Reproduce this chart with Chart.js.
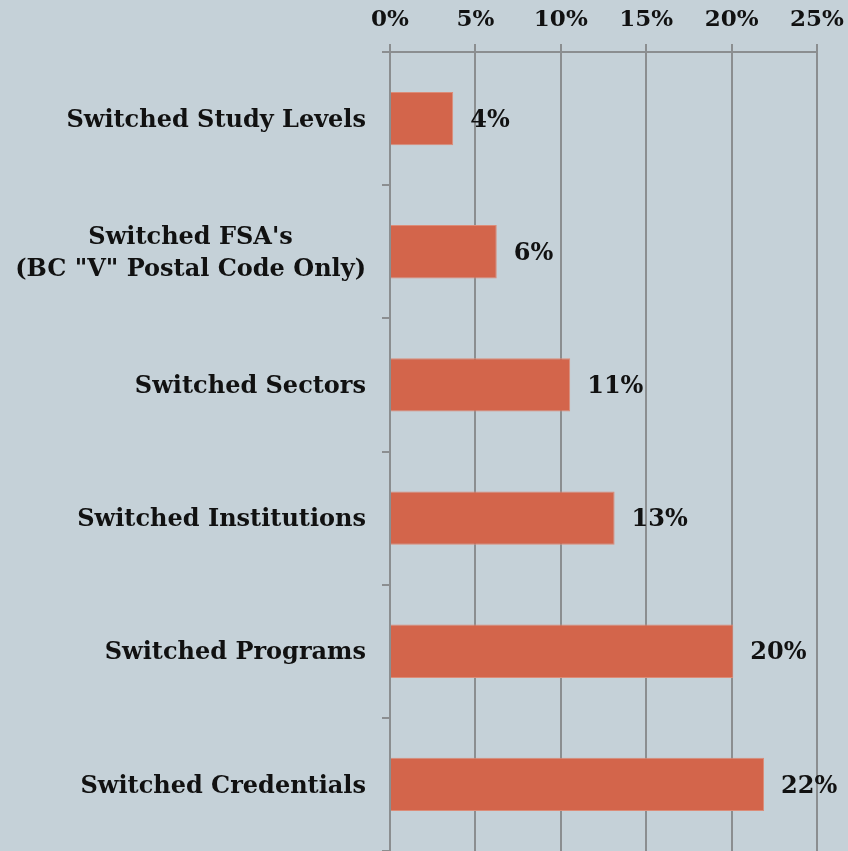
<!DOCTYPE html>
<html>
<head>
<meta charset="utf-8">
<script src="https://cdn.jsdelivr.net/npm/chart.js@4"></script>
<style>
  html, body { margin: 0; padding: 0; background: #c5d1d8; }
  #wrap { width: 848px; height: 851px; position: relative; }
</style>
</head>
<body>
<div id="wrap"><canvas id="chart"></canvas></div>
<script>
'use strict';

/*--- data ---*/
var categories = [
  ['Switched Study Levels'],
  ["Switched FSA's", '(BC "V" Postal Code Only)'],
  ['Switched Sectors'],
  ['Switched Institutions'],
  ['Switched Programs'],
  ['Switched Credentials']
];
var shares = [3.7, 6.25, 10.55, 13.15, 20.1, 21.9];
var shareLabels = ['4%', '6%', '11%', '13%', '20%', '22%'];
var xTicks = [0, 5, 10, 15, 20, 25];

var FONT = "'DejaVu Serif', serif";
var GRID = '#8b8e90';

/*--- value labels at the end of each bar ---*/
var barLabels = {
  id: 'barLabels',
  afterDatasetsDraw: function (chart) {
    var ctx = chart.ctx;
    var meta = chart.getDatasetMeta(0);
    ctx.save();
    ctx.font = 'bold 24px ' + FONT;
    ctx.fillStyle = '#111';
    ctx.textAlign = 'left';
    ctx.textBaseline = 'middle';
    meta.data.forEach(function (bar, i) {
      ctx.fillText(shareLabels[i], bar.x + 17, bar.y + 2);
    });
    ctx.restore();
  }
};

/*--- category labels, each block centred on its own lines ---*/
var catLabels = {
  id: 'catLabels',
  afterDraw: function (chart) {
    var ctx = chart.ctx;
    var yScale = chart.scales.y;
    var right = yScale.right - 24;
    ctx.save();
    ctx.font = 'bold 24px ' + FONT;
    ctx.fillStyle = '#111';
    ctx.textAlign = 'center';
    ctx.textBaseline = 'middle';
    categories.forEach(function (lines, i) {
      var y = yScale.getPixelForValue(i);
      var w = Math.max.apply(null, lines.map(function (l) { return ctx.measureText(l).width; }));
      var cx = right - w / 2;
      var lh = 32;
      var y0 = y - (lines.length - 1) * lh / 2 + 2;
      lines.forEach(function (l, k) {
        ctx.fillText(l, cx, y0 + k * lh);
      });
    });
    ctx.restore();
  }
};

new Chart(document.getElementById('chart'), {
  type: 'bar',
  data: {
    labels: categories,
    datasets: [{
      data: shares,
      backgroundColor: '#d3654b',
      borderColor: '#dc8c78',
      borderWidth: 1,
      categoryPercentage: 1,
      barPercentage: 0.4
    }]
  },
  options: {
    indexAxis: 'y',
    responsive: true,
    maintainAspectRatio: false,
    animation: false,
    layout: { padding: 0 },
    plugins: {
      legend: { display: false },
      tooltip: { enabled: false }
    },
    scales: {
      x: {
        position: 'top',
        min: 0,
        max: 25,
        afterFit: function (scale) {
          scale.height = 52;
          scale.paddingRight = 31;
          scale.paddingLeft = 0;
        },
        afterBuildTicks: function (scale) {
          scale.ticks = xTicks.map(function (v) { return { value: v }; });
        },
        ticks: {
          padding: 10,
          color: '#111',
          font: { family: FONT, size: 23, weight: 'bold' },
          maxRotation: 0,
          callback: function (v) { return v + '%'; }
        },
        grid: { color: GRID, lineWidth: 2, tickLength: 8 },
        border: { display: true, color: GRID, width: 2 }
      },
      y: {
        afterFit: function (scale) { scale.width = 390; },
        ticks: { display: false },
        grid: { drawOnChartArea: false, offset: true, color: GRID, lineWidth: 2, tickLength: 8 },
        border: { display: true, color: GRID, width: 2 }
      }
    }
  },
  plugins: [barLabels, catLabels]
});
</script>
</body>
</html>
